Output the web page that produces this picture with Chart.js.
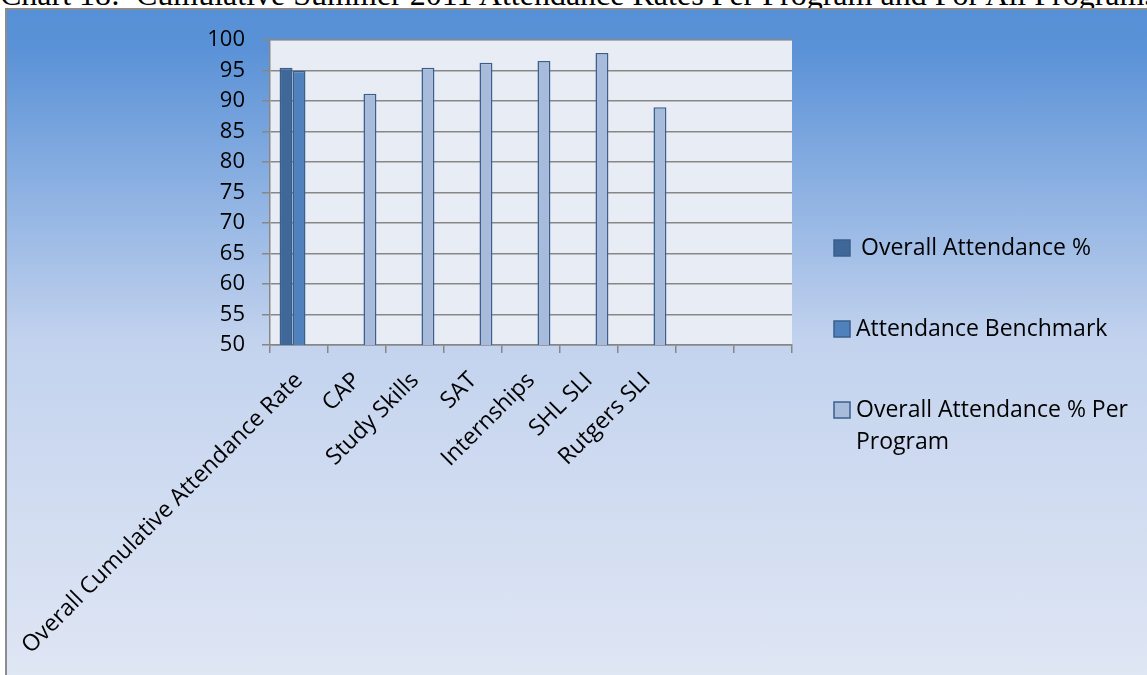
<!DOCTYPE html>
<html>
<head>
<meta charset="utf-8">
<script src="https://cdn.jsdelivr.net/npm/chart.js@4/dist/chart.umd.min.js"></script>
<style>
  html, body { margin: 0; padding: 0; background: #fff; width: 1147px; height: 675px; overflow: hidden; }
  #title {
    position: absolute; left: 0; top: -22px; white-space: nowrap;
    font-family: "Liberation Serif", "Times New Roman", serif; font-size: 32px; line-height: 32px; color: #000;
  }
  #box {
    position: absolute; left: 5px; top: 8px; width: 1140px; height: 665px;
    border-left: 2px solid #8c8c8c; border-top: 2px solid #8c8c8c;
    background: linear-gradient(to bottom, #5690d6 0%, #5b92d7 6%, #c3d3ee 50%, #dfe6f4 100%);
  }
  #chart { position: absolute; left: 0; top: 0; }
</style>
</head>
<body>
<div id="title">Chart 18:&nbsp; Cumulative Summer 2011 Attendance Rates Per Program and For All Programs</div>
<div id="box"><canvas id="chart" width="1140" height="665"></canvas></div>
<script>
var categories = ["Overall Cumulative Attendance Rate", "CAP", "Study Skills", "SAT", "Internships", "SHL SLI", "Rutgers SLI", "", ""];
var overallAttendance = [95.5, null, null, null, null, null, null, null, null];
var benchmark = [95, null, null, null, null, null, null, null, null];
var perProgram = [null, 91.2, 95.5, 96.3, 96.6, 97.9, 89.0, null, null];
var seriesNames = ["Overall Attendance %", "Attendance Benchmark", "Overall Attendance % Per Program"];
var seriesColors = ["#3f6899", "#4f81bd", "#a9bbdb"];
var yTicks = [50, 55, 60, 65, 70, 75, 80, 85, 90, 95, 100];

var fontFamily = "'Open Sans', sans-serif";
var yFont = { family: fontFamily, size: 22 };
var xFont = { family: fontFamily, size: 23 };
var legendSize = 23;
var gridColor = "#878787";

// plot area fill + legend drawn by hand (legend text wraps like the original)
var decor = {
    id: "decor",
    beforeDraw: function (chart) {
        var a = chart.chartArea, ctx = chart.ctx;
        ctx.save();
        ctx.fillStyle = "#e8ecf4";
        ctx.fillRect(a.left, a.top, a.right - a.left, a.bottom - a.top);
        ctx.restore();
    },
    afterDraw: function (chart) {
        var ctx = chart.ctx;
        var rows = [238, 319, 400];
        ctx.save();
        ctx.font = legendSize + "px " + fontFamily;
        ctx.textBaseline = "middle";
        chart.data.datasets.forEach(function (ds, i) {
            ctx.fillStyle = ds.backgroundColor;
            ctx.strokeStyle = "#3a5f8e";
            ctx.lineWidth = 1.5;
            ctx.fillRect(827, rows[i] - 8, 16, 16);
            ctx.strokeRect(827, rows[i] - 8, 16, 16);
            // simple word wrap
            var words = ds.label.split(" "), lines = [], cur = "";
            words.forEach(function (w) {
                var t = cur ? cur + " " + w : w;
                if (ctx.measureText(t).width > 285 && cur) { lines.push(cur); cur = w; } else { cur = t; }
            });
            lines.push(cur);
            ctx.fillStyle = "#000";
            lines.forEach(function (ln, j) {
                ctx.fillText(ln, i == 0 ? 854 : 849, rows[i] + j * 32);
            });
        });
        ctx.restore();
    }
};

var config = {
    type: "bar",
    data: {
        labels: categories,
        datasets: [
            { label: seriesNames[0], data: overallAttendance, backgroundColor: seriesColors[0] },
            { label: seriesNames[1], data: benchmark, backgroundColor: seriesColors[1] },
            { label: seriesNames[2], data: perProgram, backgroundColor: seriesColors[2] }
        ]
    },
    options: {
        responsive: false,
        animation: false,
        layout: { padding: { top: 29, right: 355, left: 0, bottom: 0 } },
        datasets: {
            bar: { borderColor: "#3a5f8e", borderWidth: 1.5, barPercentage: 1, categoryPercentage: 0.67 }
        },
        scales: {
            x: {
                grid: { drawOnChartArea: false, drawTicks: true, tickLength: 8, color: gridColor, lineWidth: 1.5, offset: true },
                border: { color: gridColor, width: 1.5 },
                ticks: { autoSkip: false, maxRotation: 45, minRotation: 45, color: "#000", font: xFont, padding: 14 },
                afterFit: function (s) { s.height = 330; s.paddingLeft = 0; s.paddingRight = 0; }
            },
            y: {
                min: 50, max: 100,
                afterBuildTicks: function (s) { s.ticks = yTicks.map(function (v) { return { value: v }; }); },
                grid: { color: gridColor, lineWidth: 1.5, tickLength: 8 },
                border: { color: gridColor, width: 1.5 },
                ticks: { color: "#000", font: yFont, padding: 17 },
                afterFit: function (s) { s.width = 263; }
            }
        },
        plugins: {
            legend: { display: false },
            tooltip: { enabled: false }
        }
    },
    plugins: [decor]
};

var barChart = new Chart(document.getElementById("chart"), config);
</script>
</body>
</html>
